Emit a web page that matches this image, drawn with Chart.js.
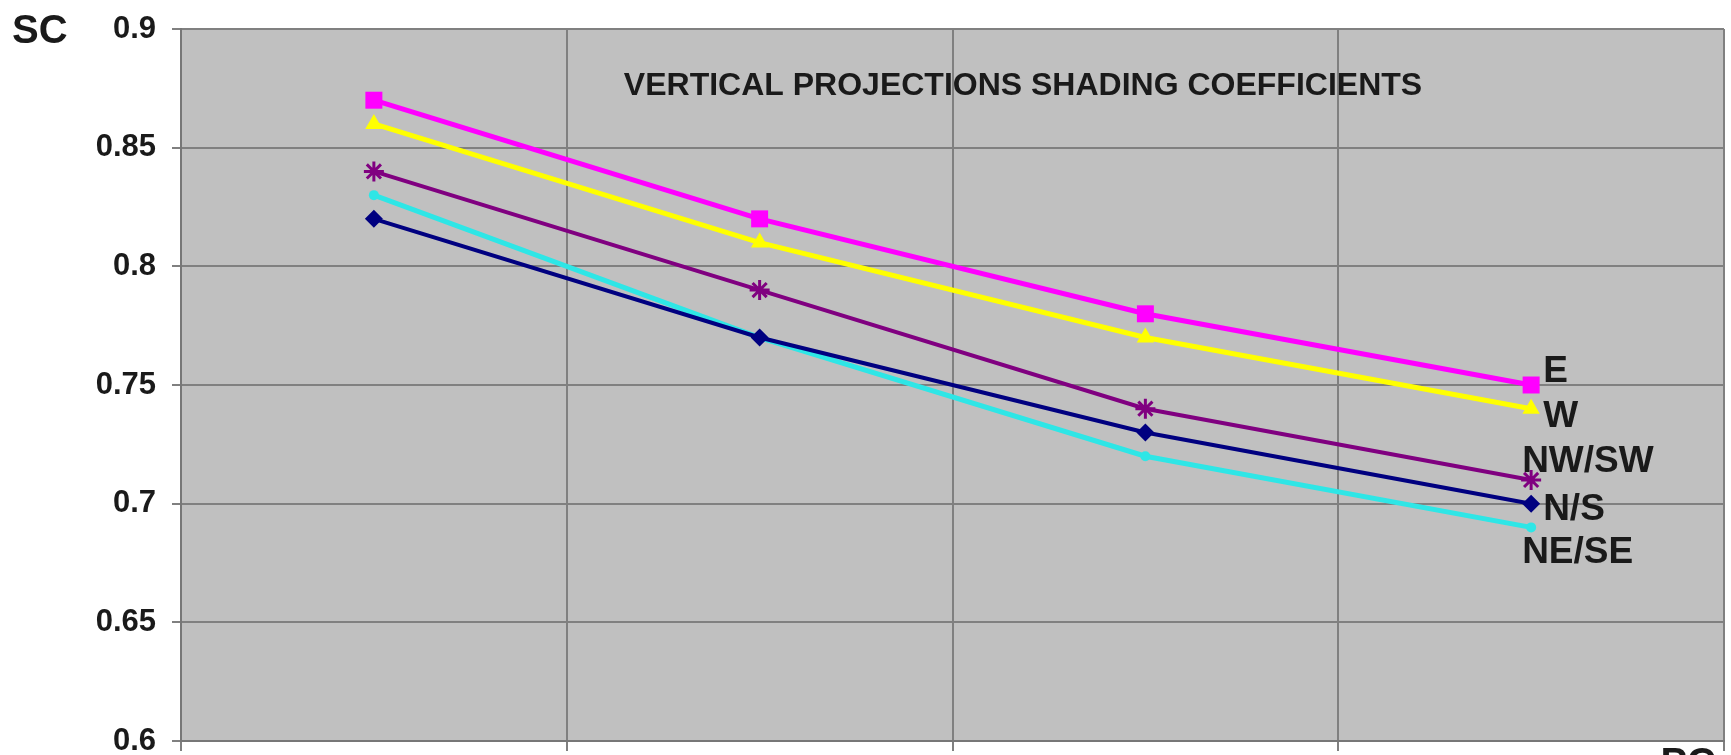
<!DOCTYPE html>
<html>
<head>
<meta charset="utf-8">
<title>Vertical projections shading coefficients</title>
<script src="https://cdn.jsdelivr.net/npm/chart.js@4.4.1/dist/chart.umd.min.js"></script>
<style>
    html, body { margin: 0; padding: 0; background: #ffffff; overflow: hidden; }
    #chart-container { position: relative; width: 1731px; height: 790px; }
</style>
</head>
<body>
<div id="chart-container"><canvas id="sc-chart"></canvas></div>
<script>
// Values
const categories = ['0 - 0.25', '0.26 - 0.5', '0.51 - 1.0', '1.01 - 2.0'];
const seriesNames = ['E', 'W', 'NW/SW', 'N/S', 'NE/SE'];
const valuesE = [0.87, 0.82, 0.78, 0.75];
const valuesW = [0.86, 0.81, 0.77, 0.74];
const valuesNWSW = [0.84, 0.79, 0.74, 0.71];
const valuesNS = [0.82, 0.77, 0.73, 0.70];
const valuesNESE = [0.83, 0.77, 0.72, 0.69];
const yTicks = [0.6, 0.65, 0.7, 0.75, 0.8, 0.85, 0.9];

const chartTitle = 'VERTICAL PROJECTIONS SHADING COEFFICIENTS';
const yAxisName = 'SC';
const xAxisName = 'PC';

const FONT = '"Liberation Sans", Arial, sans-serif';

// label offsets next to the last point of each line
const labelOffsets = [
    { dx: 12, dy: -13 },
    { dx: 12, dy: 8 },
    { dx: -9, dy: -18 },
    { dx: 12, dy: 6 },
    { dx: -9, dy: 25 }
];

const plotBackground = {
    id: 'plotBackground',
    beforeDraw(chart) {
        const { ctx, chartArea } = chart;
        ctx.save();
        ctx.fillStyle = '#c0c0c0';
        ctx.fillRect(chartArea.left, chartArea.top, chartArea.right - chartArea.left, chartArea.bottom - chartArea.top);
        ctx.restore();
    }
};

const chartTexts = {
    id: 'chartTexts',
    afterDraw(chart) {
        const { ctx, chartArea } = chart;
        ctx.save();
        ctx.fillStyle = '#1a1a1a';

        // title inside the plot
        ctx.font = 'bold 32px ' + FONT;
        ctx.textAlign = 'center';
        ctx.textBaseline = 'middle';
        ctx.fillText(chartTitle, chartArea.left + 842, chartArea.top + 57);

        // axis names
        ctx.font = 'bold 40px ' + FONT;
        ctx.textAlign = 'left';
        ctx.textBaseline = 'top';
        ctx.fillText(yAxisName, 12, 12);
        ctx.textAlign = 'right';
        ctx.fillText(xAxisName, 1716, chartArea.bottom + 4);

        // series names at the end of the lines
        ctx.font = 'bold 37px ' + FONT;
        ctx.textAlign = 'left';
        ctx.textBaseline = 'middle';
        chart.data.datasets.forEach((ds, i) => {
            const meta = chart.getDatasetMeta(i);
            const pt = meta.data[meta.data.length - 1];
            ctx.fillText(ds.label, pt.x + labelOffsets[i].dx, pt.y + labelOffsets[i].dy);
        });
        ctx.restore();
    }
};

document.addEventListener('DOMContentLoaded', () => {
    drawChart();
});

function drawChart() {
    const ctx = document.getElementById('sc-chart').getContext('2d');

    const chartData = {
        labels: categories,
        datasets: [
            {
                label: seriesNames[0],
                data: valuesE,
                borderColor: '#ff00ff',
                backgroundColor: '#ff00ff',
                borderWidth: 5,
                pointStyle: 'rect',
                pointRadius: 12,
                pointBorderWidth: 0
            },
            {
                label: seriesNames[1],
                data: valuesW,
                borderColor: '#ffff00',
                backgroundColor: '#ffff00',
                borderWidth: 5,
                pointStyle: 'triangle',
                pointRadius: 10,
                pointBorderWidth: 0
            },
            {
                label: seriesNames[2],
                data: valuesNWSW,
                borderColor: '#800080',
                backgroundColor: '#800080',
                borderWidth: 4,
                pointStyle: 'star',
                pointRadius: 10,
                pointBorderWidth: 3
            },
            {
                label: seriesNames[3],
                data: valuesNS,
                borderColor: '#000080',
                backgroundColor: '#000080',
                borderWidth: 4,
                pointStyle: 'rectRot',
                pointRadius: 9,
                pointBorderWidth: 0
            },
            {
                label: seriesNames[4],
                data: valuesNESE,
                borderColor: '#2ee6e6',
                backgroundColor: '#2ee6e6',
                borderWidth: 5,
                pointStyle: 'circle',
                pointRadius: 5,
                pointBorderWidth: 0
            }
        ]
    };

    const chartOptions = {
        responsive: true,
        maintainAspectRatio: false,
        animation: false,
        layout: {
            autoPadding: false,
            padding: { left: 0, right: 7, top: 29, bottom: 0 }
        },
        scales: {
            x: {
                offset: true,
                grid: {
                    offset: true,
                    color: '#808080',
                    lineWidth: 2,
                    tickLength: 10
                },
                border: { color: '#777777', width: 2 },
                ticks: {
                    color: '#1a1a1a',
                    padding: 0,
                    font: { family: FONT, size: 28, weight: 'bold' }
                },
                afterFit(scale) {
                    scale.height = 49;
                    scale.paddingLeft = 0;
                    scale.paddingRight = 0;
                }
            },
            y: {
                min: 0.6,
                max: 0.9,
                afterBuildTicks(scale) {
                    scale.ticks = yTicks.map(v => ({ value: v }));
                },
                grid: {
                    color: '#808080',
                    lineWidth: 2,
                    tickLength: 9
                },
                border: { color: '#777777', width: 2 },
                ticks: {
                    color: '#1a1a1a',
                    padding: 16,
                    font: { family: FONT, size: 31, weight: 'bold' },
                    callback: v => String(Math.round(v * 100) / 100)
                },
                afterFit(scale) {
                    scale.width = 181;
                    scale.paddingTop = 0;
                    scale.paddingBottom = 0;
                }
            }
        },
        plugins: {
            legend: { display: false },
            tooltip: { enabled: false }
        }
    };

    new Chart(ctx, {
        type: 'line',
        data: chartData,
        options: chartOptions,
        plugins: [plotBackground, chartTexts]
    });
}
</script>
</body>
</html>
